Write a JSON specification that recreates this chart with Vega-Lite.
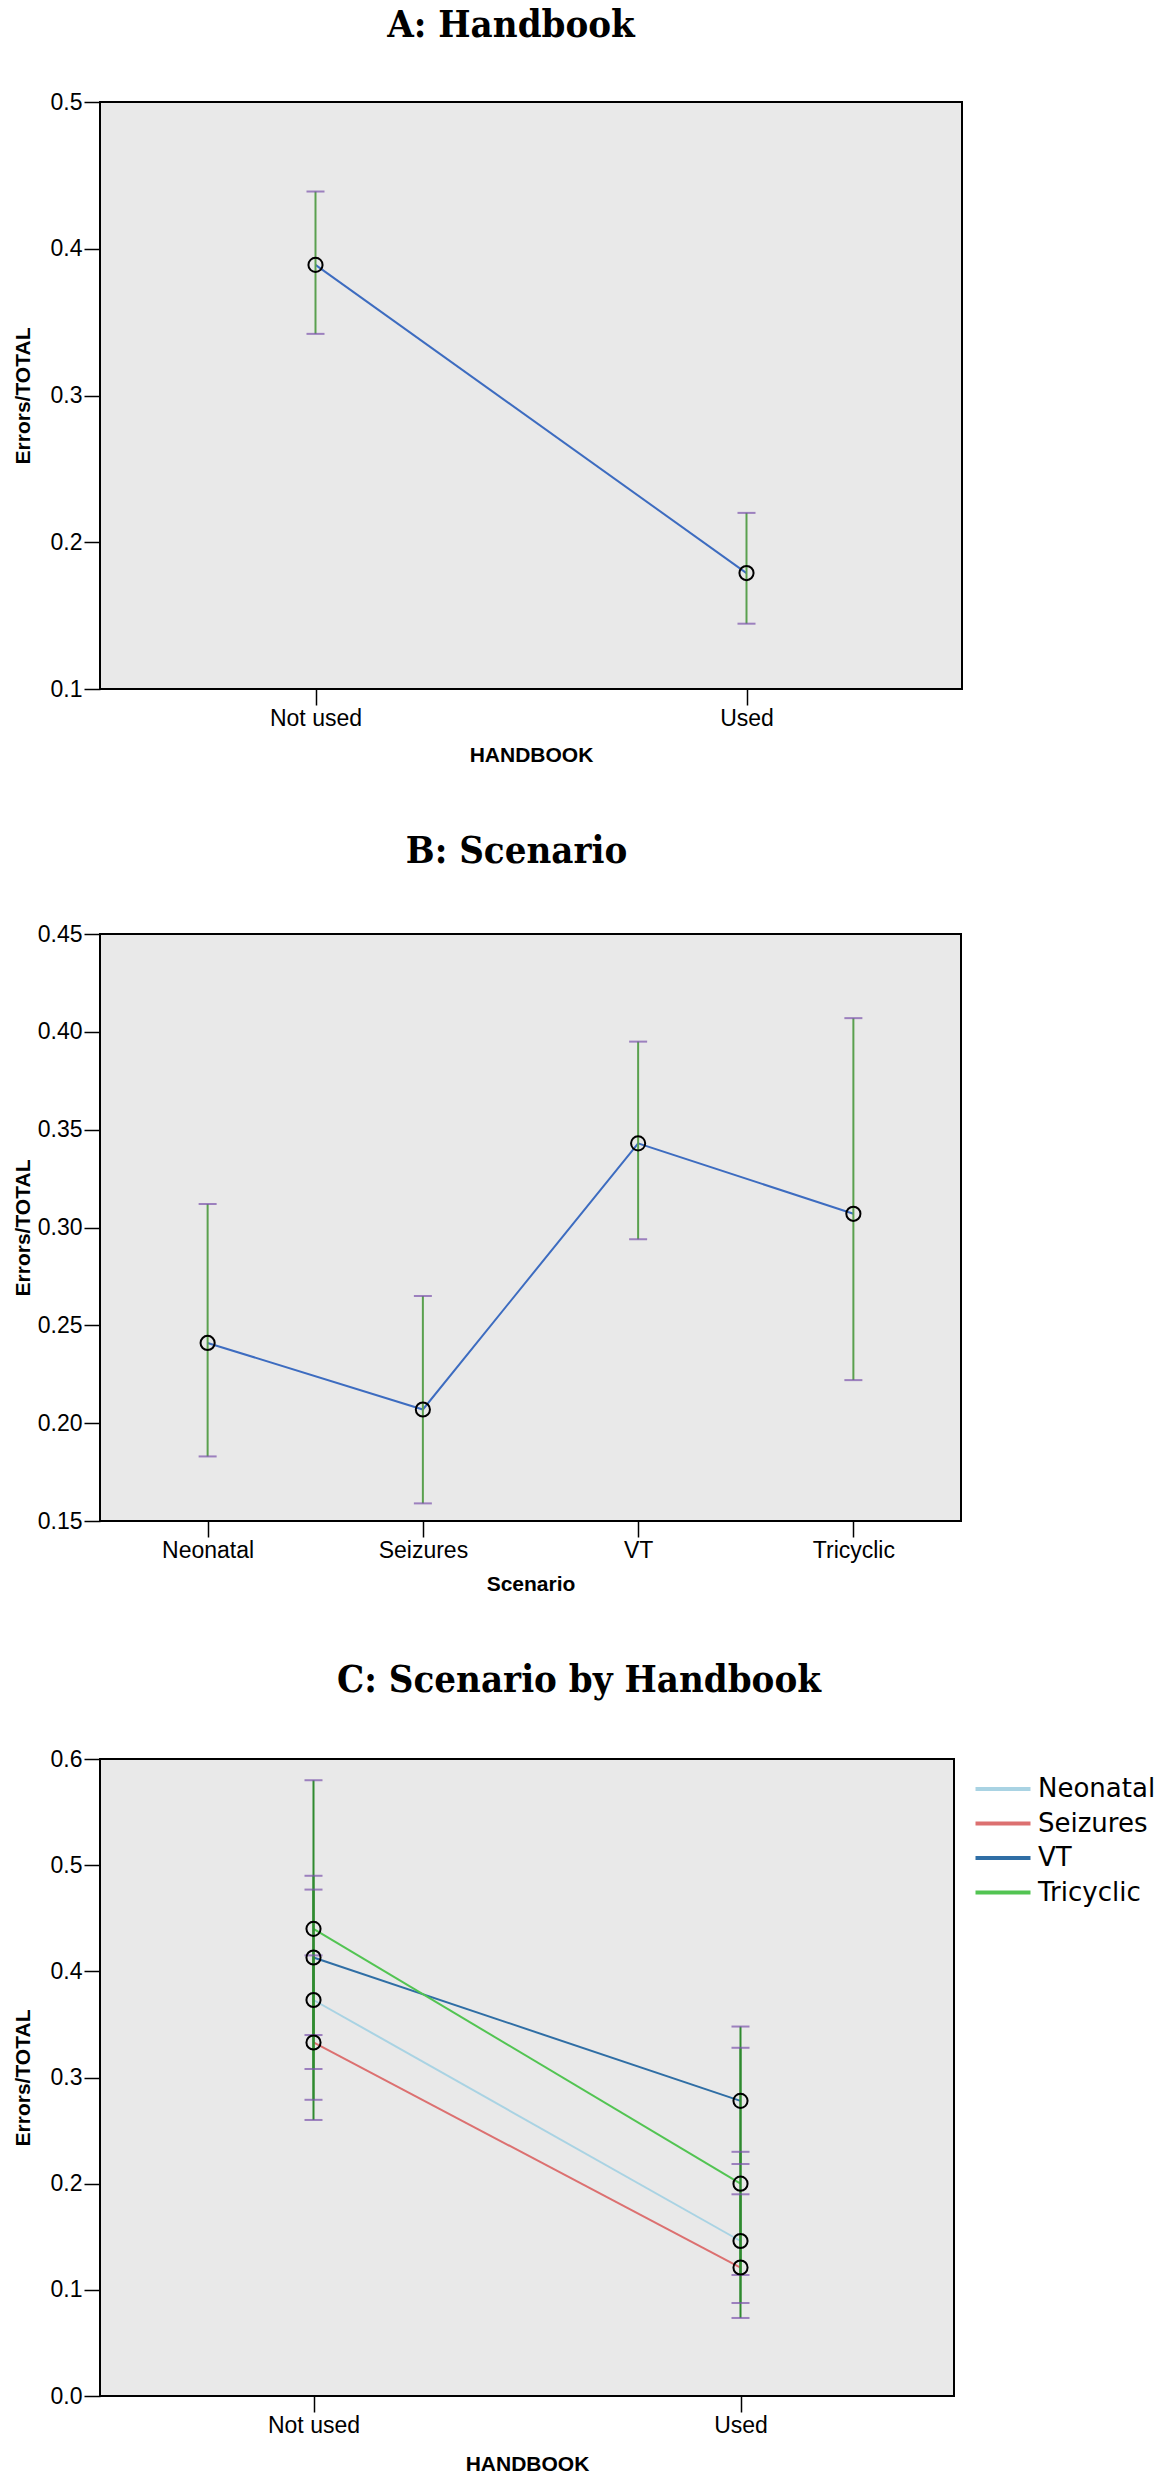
{
  "$schema": "https://vega.github.io/schema/vega-lite/v6.json",
  "padding": {"left": 11, "top": 6, "right": 0, "bottom": 0},
  "spacing": 66,
  "resolve": {"legend": {"color": "independent"}},
  "config": {
    "view": {"stroke": "#000", "strokeWidth": 2, "fill": "#e9e9e9"},
    "axis": {"domain": false, "grid": false, "tickColor": "#000", "tickSize": 16, "tickWidth": 1.5, "labelFont": "Liberation Sans", "labelFontSize": 23, "labelColor": "#000", "labelPadding": 2, "titleFont": "Liberation Sans", "titleFontSize": 21, "titleFontWeight": "bold", "titleColor": "#000"},
    "title": {"font": "'DejaVu Serif Condensed', 'DejaVu Serif', serif", "fontSize": 38, "fontWeight": "bold", "color": "#000", "anchor": "middle"}
  },
  "vconcat": [
    {
      "width": 862, "height": 587,
      "title": {"text": "A: Handbook", "frame": "group", "dx": -20, "offset": 46},
      "data": {"values": [
        {"h": "Not used", "mean": 0.389, "lo": 0.342, "hi": 0.439},
        {"h": "Used", "mean": 0.179, "lo": 0.1445, "hi": 0.220}
      ]},
      "encoding": {"x": {"field": "h", "type": "nominal", "scale": {"type": "point", "padding": 0.5, "domain": ["Not used", "Used"]}, "axis": {"labelAngle": 0, "title": "HANDBOOK", "titleY": 55, "titleBaseline": "top"}}},
      "layer": [
        {"mark": {"type": "line", "color": "#3d6cc0", "strokeWidth": 2}, "encoding": {"y": {"field": "mean", "type": "quantitative", "title": "Errors/TOTAL", "scale": {"domain": [0.1, 0.5], "nice": false, "zero": false}, "axis": {"values": [0.1, 0.2, 0.3, 0.4, 0.5], "format": ".1f", "titleX": -88, "titleBaseline": "top"}}}},
        {"mark": {"type": "rule", "color": "#5aa04e", "strokeWidth": 2}, "encoding": {"y": {"field": "lo", "type": "quantitative", "title": "Errors/TOTAL"}, "y2": {"field": "hi"}}},
        {"mark": {"type": "tick", "color": "#7b52ab", "thickness": 2, "size": 18}, "encoding": {"y": {"field": "lo", "type": "quantitative", "title": "Errors/TOTAL"}}},
        {"mark": {"type": "tick", "color": "#7b52ab", "thickness": 2, "size": 18}, "encoding": {"y": {"field": "hi", "type": "quantitative", "title": "Errors/TOTAL"}}},
        {"mark": {"type": "point", "shape": "circle", "filled": false, "color": "#000", "strokeWidth": 2, "size": 200, "opacity": 1}, "encoding": {"y": {"field": "mean", "type": "quantitative", "title": "Errors/TOTAL"}}}
      ]
    },
    {
      "width": 861, "height": 587,
      "title": {"text": "B: Scenario", "frame": "group", "dx": -14, "offset": 52},
      "data": {"values": [
        {"s": "Neonatal", "mean": 0.241, "lo": 0.183, "hi": 0.312},
        {"s": "Seizures", "mean": 0.207, "lo": 0.159, "hi": 0.265},
        {"s": "VT", "mean": 0.343, "lo": 0.294, "hi": 0.395},
        {"s": "Tricyclic", "mean": 0.307, "lo": 0.222, "hi": 0.407}
      ]},
      "encoding": {"x": {"field": "s", "type": "nominal", "scale": {"type": "point", "padding": 0.5, "domain": ["Neonatal", "Seizures", "VT", "Tricyclic"]}, "axis": {"labelAngle": 0, "title": "Scenario", "titleY": 52, "titleBaseline": "top"}}},
      "layer": [
        {"mark": {"type": "line", "color": "#3d6cc0", "strokeWidth": 2}, "encoding": {"y": {"field": "mean", "type": "quantitative", "title": "Errors/TOTAL", "scale": {"domain": [0.15, 0.45], "nice": false, "zero": false}, "axis": {"values": [0.15, 0.2, 0.25, 0.3, 0.35, 0.4, 0.45], "format": ".2f", "titleX": -88, "titleBaseline": "top"}}}},
        {"mark": {"type": "rule", "color": "#5aa04e", "strokeWidth": 2}, "encoding": {"y": {"field": "lo", "type": "quantitative", "title": "Errors/TOTAL"}, "y2": {"field": "hi"}}},
        {"mark": {"type": "tick", "color": "#7b52ab", "thickness": 2, "size": 18}, "encoding": {"y": {"field": "lo", "type": "quantitative", "title": "Errors/TOTAL"}}},
        {"mark": {"type": "tick", "color": "#7b52ab", "thickness": 2, "size": 18}, "encoding": {"y": {"field": "hi", "type": "quantitative", "title": "Errors/TOTAL"}}},
        {"mark": {"type": "point", "shape": "circle", "filled": false, "color": "#000", "strokeWidth": 2, "size": 200, "opacity": 1}, "encoding": {"y": {"field": "mean", "type": "quantitative", "title": "Errors/TOTAL"}}}
      ]
    },
    {
      "width": 854, "height": 637,
      "title": {"text": "C: Scenario by Handbook", "frame": "group", "dx": 52, "offset": 48},
      "data": {"values": [
        {"h": "Not used", "s": "Neonatal", "mean": 0.373, "lo": 0.279, "hi": 0.477},
        {"h": "Not used", "s": "Seizures", "mean": 0.333, "lo": 0.260, "hi": 0.415},
        {"h": "Not used", "s": "VT", "mean": 0.413, "lo": 0.340, "hi": 0.490},
        {"h": "Not used", "s": "Tricyclic", "mean": 0.440, "lo": 0.308, "hi": 0.580},
        {"h": "Used", "s": "Neonatal", "mean": 0.146, "lo": 0.0876, "hi": 0.230},
        {"h": "Used", "s": "Seizures", "mean": 0.121, "lo": 0.114, "hi": 0.190},
        {"h": "Used", "s": "VT", "mean": 0.278, "lo": 0.2185, "hi": 0.348},
        {"h": "Used", "s": "Tricyclic", "mean": 0.200, "lo": 0.0735, "hi": 0.328}
      ]},
      "encoding": {"x": {"field": "h", "type": "nominal", "scale": {"type": "point", "padding": 0.5, "domain": ["Not used", "Used"]}, "axis": {"labelAngle": 0, "title": "HANDBOOK", "titleY": 57, "titleBaseline": "top"}}},
      "layer": [
        {"mark": {"type": "line", "strokeWidth": 2}, "encoding": {
          "y": {"field": "mean", "type": "quantitative", "title": "Errors/TOTAL", "scale": {"domain": [0, 0.6], "nice": false, "zero": false}, "axis": {"values": [0, 0.1, 0.2, 0.3, 0.4, 0.5, 0.6], "format": ".1f", "titleX": -88, "titleBaseline": "top"}},
          "color": {"field": "s", "type": "nominal", "scale": {"domain": ["Neonatal", "Seizures", "VT", "Tricyclic"], "range": ["#a9d3e3", "#dc7070", "#2f6ea5", "#52c452"]},
            "legend": {"title": null, "orient": "none", "legendX": 887, "legendY": 14, "symbolType": "M-2,0H2", "symbolSize": 756, "symbolStrokeWidth": 4, "labelFont": "DejaVu Sans", "labelFontSize": 26, "labelColor": "#000", "labelOffset": 19, "padding": 0, "rowPadding": 5.5}}
        }},
        {"mark": {"type": "rule", "color": "#2f8a2f", "strokeWidth": 2}, "encoding": {"y": {"field": "lo", "type": "quantitative", "title": "Errors/TOTAL"}, "y2": {"field": "hi"}}},
        {"mark": {"type": "tick", "color": "#7b52ab", "thickness": 2, "size": 18}, "encoding": {"y": {"field": "lo", "type": "quantitative", "title": "Errors/TOTAL"}}},
        {"mark": {"type": "tick", "color": "#7b52ab", "thickness": 2, "size": 18}, "encoding": {"y": {"field": "hi", "type": "quantitative", "title": "Errors/TOTAL"}}},
        {"mark": {"type": "point", "shape": "circle", "filled": false, "color": "#000", "strokeWidth": 2, "size": 200, "opacity": 1}, "encoding": {"y": {"field": "mean", "type": "quantitative", "title": "Errors/TOTAL"}}}
      ]
    }
  ]
}
